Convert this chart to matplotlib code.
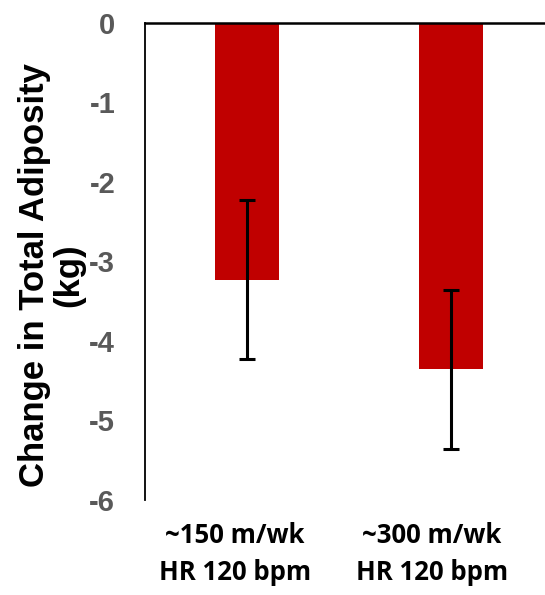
import numpy as np
import matplotlib.pyplot as plt
from matplotlib.transforms import ScaledTranslation

groups = ["~150 m/wk\nHR 120 bpm", "~300 m/wk\nHR 120 bpm"]
change_kg = [-3.23, -4.36]
err_kg = [1.0, 1.0]
yticks = [0, -1, -2, -3, -4, -5, -6]

fig = plt.figure(figsize=(5.45, 5.95), dpi=100)
ax = fig.add_axes([145 / 545, 1 - 500 / 595, 1 - 145 / 545, (500 - 22.5) / 595])

x = np.arange(len(groups))
ax.bar(x, change_kg, width=0.314, color="#C00000", zorder=2)
ax.errorbar(x, change_kg, yerr=err_kg, fmt="none", ecolor="black",
            elinewidth=2.2, capsize=6, capthick=2.2, zorder=3)

ax.set_ylim(-6, 0)
ax.set_xlim(-0.5, 1.46)
ax.set_yticks(yticks)
ax.set_yticklabels([str(v) for v in yticks], family="Liberation Sans",
                   fontweight="bold", fontsize=21, color="#595959")
ax.set_xticks(x)
ax.set_xticklabels(groups, family="Open Sans", fontweight="bold",
                   fontsize=18.5, linespacing=1.48)
ax.tick_params(axis="y", length=0, pad=21.5)
ax.tick_params(axis="x", length=0, pad=16)

# category labels sit a little left of the bars in the original
for lab, dx in zip(ax.get_xticklabels(), [-12, -19]):
    lab.set_transform(lab.get_transform() +
                      ScaledTranslation(dx / 100, 0, fig.dpi_scale_trans))

ax.spines["bottom"].set_visible(False)
ax.spines["right"].set_visible(False)
ax.spines["top"].set_linewidth(1.8)
ax.spines["left"].set_linewidth(1.3)

ax.set_ylabel("Change in Total Adiposity\n(kg)", family="Liberation Sans",
              fontweight="bold", fontsize=25, linespacing=1.05)
ax.yaxis.set_label_coords(-0.15, 0.471)

plt.savefig("out.png", dpi=100)
